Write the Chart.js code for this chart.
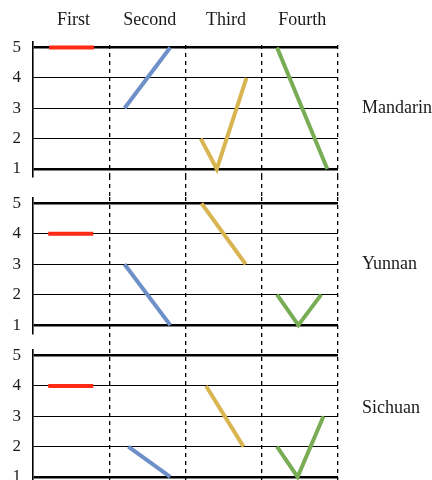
<!DOCTYPE html>
<html>
<head>
<meta charset="utf-8">
<script src="https://cdn.jsdelivr.net/npm/chart.js@4.4.1/dist/chart.umd.min.js"></script>
<style>
  html, body { margin: 0; padding: 0; background: #fff; }
  #wrap { position: relative; width: 432px; height: 480px; overflow: hidden; }
  #wrap canvas { position: absolute; left: 0; }
</style>
</head>
<body>
<div id="wrap">
  <canvas id="panel0" width="432" height="197" style="top:0px"></canvas>
  <canvas id="panel1" width="432" height="152" style="top:197px"></canvas>
  <canvas id="panel2" width="432" height="131" style="top:349px"></canvas>
</div>
<script>
/* tone-contour chart: three dialects, four tones, pitch levels 1..5 */

const TONES = ['First', 'Second', 'Third', 'Fourth'];
const DIALECTS = ['Mandarin', 'Yunnan', 'Sichuan'];
const LEVELS = [1, 2, 3, 4, 5];
const COLUMNS = [0, 1, 2, 3, 4];          // column edges (dashed separators)
const TONE_COLORS = ['#ff2b14', '#6e90c9', '#d9b551', '#79ad55'];

// x = position along the tone columns (0..4), y = pitch level
const mandarinX = [[0.21, 0.8], [1.2, 1.8], [2.2, 2.41, 2.8], [3.2, 3.86]];
const mandarinY = [[5, 5], [3, 5], [2, 1, 4], [5, 1]];
const yunnanX = [[0.2, 0.79], [1.2, 1.8], [2.21, 2.79], [3.2, 3.48, 3.78]];
const yunnanY = [[4, 4], [3, 1], [5, 3], [2, 1, 2]];
const sichuanX = [[0.2, 0.79], [1.25, 1.8], [2.27, 2.76], [3.2, 3.47, 3.81]];
const sichuanY = [[4, 4], [2, 1], [4, 2], [2, 1, 3]];
const LABEL_LEVEL = [3, 3, 3.25];        // where the dialect name sits

const INK = '#1a1a1a';
Chart.defaults.font.family = "'Liberation Serif', 'Times New Roman', serif";
Chart.defaults.color = INK;

// per-panel layout (canvas geometry lives here, not in the data)
const PANELS = [
  { id: 'panel0', xs: mandarinX, ys: mandarinY, min: 0.77, max: 5.18, head: 42, gap: 21, dashOff: 5 },
  { id: 'panel1', xs: yunnanX, ys: yunnanY, min: 0.74, max: 5.21, head: 0, gap: 16, dashOff: 0 },
  { id: 'panel2', xs: sichuanX, ys: sichuanY, min: 0.9, max: 5.22, head: 0, gap: 0, dashOff: 0 },
];

function contour(xs, ys) {
  return xs.map((x, i) => ({ x, y: ys[i] }));
}

// fixed axis size, and no label overhang pushing the chart area around
function fixSize(key, size) {
  return s => {
    s[key] = size;
    s.paddingTop = s.paddingBottom = s.paddingLeft = s.paddingRight = 0;
  };
}

function buildPanel(p, idx) {
  const datasets = TONES.map((t, i) => ({
    label: t,
    data: contour(p.xs[i], p.ys[i]),
    borderColor: TONE_COLORS[i],
    borderWidth: 4,
    pointRadius: 0,
    tension: 0,
    fill: false,
  }));

  const hideFirst = c => (c.tick && c.tick.value === 0 ? 'rgba(0,0,0,0)' : '#000');

  const scales = {
    x: {
      type: 'linear', min: 0, max: 4, position: 'bottom',
      afterBuildTicks: s => { s.ticks = COLUMNS.map(v => ({ value: v })); },
      afterFit: fixSize('height', p.gap),
      ticks: { display: false },
      border: { display: false, dash: [4, 4], dashOffset: p.dashOff },
      grid: {
        color: hideFirst,
        lineWidth: 1.3,
        drawTicks: p.gap > 0,
        tickLength: p.gap,
        tickColor: hideFirst,
        tickWidth: 1.3,
        tickBorderDash: [4, 4],
      },
    },
    y: {
      type: 'linear', min: p.min, max: p.max, position: 'left',
      afterBuildTicks: s => { s.ticks = LEVELS.map(v => ({ value: v })); },
      afterFit: fixSize('width', 33),
      ticks: { padding: 12, font: { size: 17 }, color: INK, autoSkip: false },
      border: { display: true, color: '#000', width: 1.6 },
      grid: {
        color: '#000',
        lineWidth: c => (c.tick && (c.tick.value === 1 || c.tick.value === 5) ? 2.6 : 1),
        drawTicks: false,
      },
    },
    side: {
      type: 'linear', min: p.min, max: p.max, position: 'right',
      afterBuildTicks: s => { s.ticks = [{ value: LABEL_LEVEL[idx] }]; },
      afterFit: fixSize('width', 94),
      ticks: { padding: 24, font: { size: 18 }, color: INK, callback: () => DIALECTS[idx] },
      border: { display: false },
      grid: { display: false, drawTicks: false },
    },
  };

  if (p.head > 0) {
    scales.xTop = {
      type: 'linear', min: 0, max: 4, position: 'top',
      afterBuildTicks: s => { s.ticks = TONES.map((t, i) => ({ value: i + 0.53 })); },
      afterFit: fixSize('height', p.head),
      ticks: {
        padding: 11, font: { size: 18 }, color: INK, maxRotation: 0, autoSkip: false,
        callback: (v, i) => TONES[i],
      },
      border: { display: false },
      grid: { display: false, drawTicks: false },
    };
  }

  return new Chart(document.getElementById(p.id), {
    type: 'line',
    data: { datasets },
    options: {
      responsive: false,
      animation: false,
      layout: { padding: 0 },
      plugins: { legend: { display: false }, tooltip: { enabled: false } },
      scales,
    },
  });
}

PANELS.forEach(buildPanel);
</script>
</body>
</html>
